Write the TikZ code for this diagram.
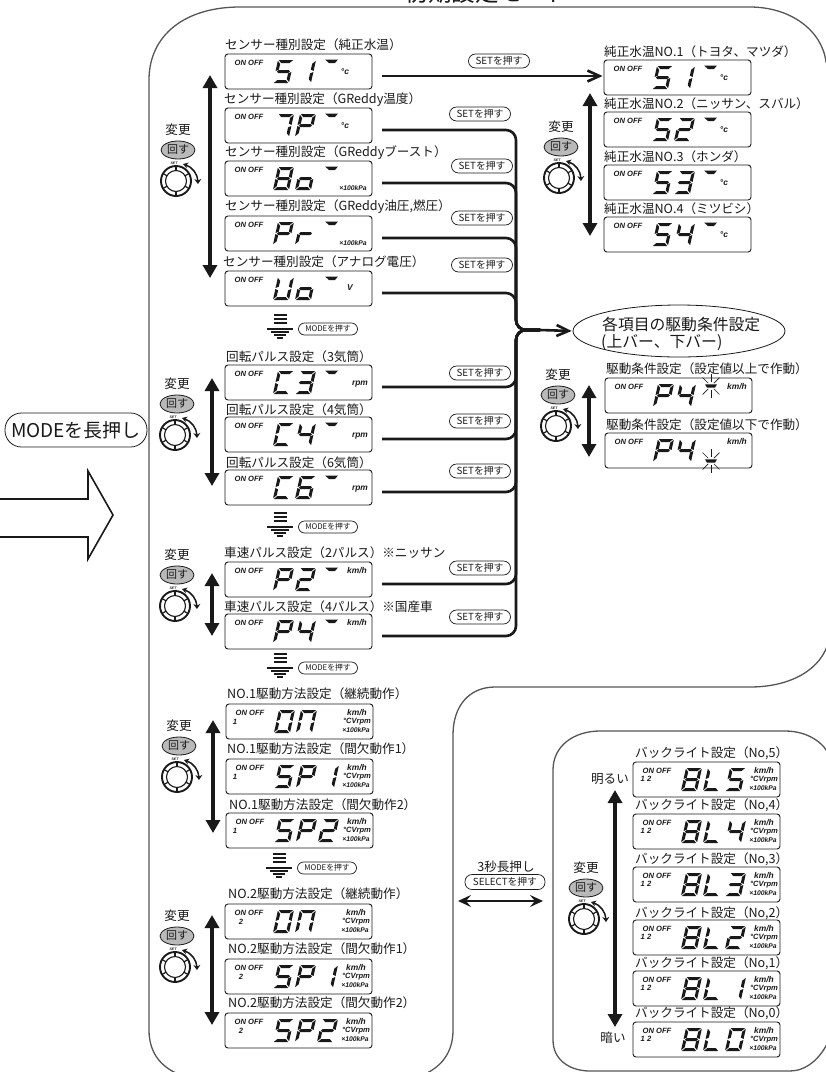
\documentclass[tikz,border=0pt]{standalone}
\usepackage{fontspec}
\setmainfont{Noto Sans CJK JP}
\newfontfamily\lcdfont{Liberation Sans}
\usepackage{tikz}
\usetikzlibrary{positioning,arrows.meta,shapes.geometric,calc}
\definecolor{inkblack}{RGB}{25,25,25}
\definecolor{framegray}{RGB}{85,85,85}
\definecolor{turngray}{RGB}{185,185,185}

\tikzset{
  lcdbox/.style={draw=inkblack,line width=0.9pt,rounded corners=3pt,minimum width=147pt,minimum height=35pt,inner sep=0pt},
  lcdlabel/.style={anchor=west,inner sep=0pt,text=inkblack,font=\fontsize{12.6}{13}\selectfont},
  lcdtext/.style={inner sep=0pt,text=inkblack,font=\lcdfont\bfseries\itshape\fontsize{7.6}{8}\selectfont},
  lcdunit/.style={inner sep=0pt,text=inkblack,font=\lcdfont\bfseries\itshape\fontsize{8.4}{9}\selectfont},
  lcdsmall/.style={inner sep=0pt,text=inkblack,font=\lcdfont\bfseries\itshape\fontsize{6.8}{7}\selectfont},
  pressbox/.style={draw=inkblack,line width=0.7pt,rounded corners=7pt,minimum width=61pt,minimum height=14pt,inner sep=0pt,text=inkblack,font=\fontsize{9.8}{10}\selectfont},
  modebox/.style={draw=inkblack,line width=0.7pt,rounded corners=6pt,minimum width=59pt,minimum height=12pt,inner sep=0pt,text=inkblack,font=\fontsize{7.8}{8}\selectfont},
  wordtext/.style={inner sep=0pt,text=inkblack,font=\fontsize{12.6}{13}\selectfont},
  turnbox/.style={ellipse,draw=inkblack,line width=0.8pt,fill=turngray,minimum width=34pt,minimum height=18pt,inner sep=0pt,text=inkblack,font=\fontsize{11}{12}\selectfont},
  updown/.style={line width=3.4pt,inkblack,{Triangle[length=13pt,width=14pt]}-{Triangle[length=13pt,width=14pt]}},
  busline/.style={line width=2.6pt,inkblack,rounded corners=10pt},
  flowline/.style={line width=2.6pt,inkblack,-{Straight Barb[length=12pt,width=11pt]},shorten >=1pt},
  panel/.style={framegray,line width=1.3pt},
}

% ── LCD segments, 16 wide and 23 high ──
\newcommand{\lcdsega}{\fill (0.8,0) -- (15.2,0) -- (12.2,3) -- (3.8,3) -- cycle;}
\newcommand{\lcdsegd}{\fill (0.8,23) -- (15.2,23) -- (12.2,20) -- (3.8,20) -- cycle;}
\newcommand{\lcdsegg}{\fill (1.5,11.5) -- (3,10) -- (13,10) -- (14.5,11.5) -- (13,13) -- (3,13) -- cycle;}
\newcommand{\lcdsegf}{\fill (0,0.8) -- (3,3.8) -- (3,9.6) -- (0,11) -- cycle;}
\newcommand{\lcdsegb}{\fill (16,0.8) -- (13,3.8) -- (13,9.6) -- (16,11) -- cycle;}
\newcommand{\lcdsege}{\fill (0,12) -- (3,13.4) -- (3,19.2) -- (0,22.2) -- cycle;}
\newcommand{\lcdsegc}{\fill (16,12) -- (13,13.4) -- (13,19.2) -- (16,22.2) -- cycle;}

\newcommand{\defglyph}[2]{\expandafter\def\csname glyph#1\endcsname{#2}}
\defglyph{5}{a,f,g,c,d}
\defglyph{S}{a,f,g,c,d}
\defglyph{1}{b,c}
\defglyph{7}{a,b,c}
\defglyph{P}{a,b,f,g,e}
\defglyph{8}{a,b,c,d,e,f,g}
\defglyph{o}{g,c,d,e}
\defglyph{r}{g,e}
\defglyph{U}{f,e,d,c,b}
\defglyph{C}{a,f,e,d}
\defglyph{3}{a,b,g,c,d}
\defglyph{4}{f,g,b,c}
\defglyph{6}{a,f,g,e,d,c}
\defglyph{2}{a,b,g,e,d}
\defglyph{0}{a,b,c,d,e,f}
\defglyph{N}{a,b,c,e,f}
\defglyph{L}{f,e,d}

\newcommand{\lcdglyph}[2]{%
  \begin{scope}[shift={(#2+5,6)},xslant=0.22,inkblack]
    \expandafter\let\expandafter\seglist\csname glyph#1\endcsname
    \foreach \seg in \seglist {\csname lcdseg\seg\endcsname}
  \end{scope}}

% ── Units ──
\newcommand{\unitc}[1]{\node[lcdunit] (#1-unit) at (120,18) {°c};}
\newcommand{\unitkm}[1]{\node[lcdunit] (#1-unit) at (132,9) {km/h};}
\newcommand{\unitrpm}[1]{\node[lcdunit] (#1-unit) at (135,19) {rpm};}
\newcommand{\unitkpa}[1]{\node[lcdsmall] (#1-unit) at (128,27) {×100kPa};}
\newcommand{\unitv}[1]{\node[lcdunit] (#1-unit) at (125,17) {V};}
\newcommand{\unitall}[1]{%
  \node[lcdunit] (#1-unit) at (131,9) {km/h};
  \node[lcdtext] (#1-cv) at (131,18) {°CVrpm};
  \node[lcdsmall] (#1-pa) at (130,26) {×100kPa};}

\newcommand{\lcdbar}{\fill[inkblack] (100,5.5) -- (113,5.5) -- (110,9) -- (104,9) -- cycle;}
\newcommand{\blinkbar}[2]{%
  \fill[inkblack] (#1-6,#2-1.7) -- (#1+6,#2-1.7) -- (#1+4,#2+1.7) -- (#1-4,#2+1.7) -- cycle;
  \foreach \ang in {45,90,135,225,270,315}
    \draw[inkblack,line width=0.7pt] (#1,#2) ++(\ang:4) -- ++(\ang:8);}

% name, left, top, glyphs, unit, extras
\newcommand{\lcd}[6]{%
  \node[lcdbox] (#1) at (#2+73.5,#3+17.5) {};
  \begin{scope}[shift={(#2,#3)}]
    \node[lcdtext] (#1-on) at (24,9) {ON OFF};
    \foreach \g [count=\i] in {#4} {
      \pgfmathsetmacro{\glyphx}{48+22*(\i-1)}
      \lcdglyph{\g}{\glyphx}
    }
    \csname unit#5\endcsname{#1}
    #6
  \end{scope}
  \coordinate (#1-out) at (#2+157,#3+22);}

% name, centre of the grey button
\newcommand{\knobgroup}[3]{%
  \node[wordtext] (#1-word) at (#2,#3-20) {変更};
  \node[turnbox] (#1-turn) at (#2,#3) {回す};
  \coordinate (#1-knob) at (#2-2,#3+31);
  \draw[inkblack,line width=1.9pt] (#1-knob) circle (15pt);
  \draw[inkblack,line width=1.1pt] (#1-knob) circle (10.5pt);
  \foreach \ang in {90,30,-30,-90,-150,150}
    \draw[inkblack,line width=1.2pt] ($(#1-knob)+(\ang:10.5pt)$) -- ($(#1-knob)+(\ang:15pt)$);
  \node[inner sep=0pt,inkblack,font=\lcdfont\bfseries\itshape\fontsize{3.5}{4}\selectfont] (#1-set) at ($(#1-knob)+(-2,-18)$) {SET};
  \draw[inkblack,line width=1.5pt,{Stealth[length=5pt,width=6pt]}-{Stealth[length=5pt,width=7pt]}] ($(#1-knob)+(7,-17)$) to[bend left=35] ($(#1-knob)+(22,3)$);}

% name, x, top, bottom
\newcommand{\updownlink}[4]{%
  \coordinate (#1-up) at (#2,#3);
  \coordinate (#1-down) at (#2,#4);
  \draw[updown] (#1-up) -- (#1-down);}

% name, x, top
\newcommand{\modestep}[3]{%
  \foreach \dy/\hw in {0/6.5,4/6.5,8/6.5,14/13,17/9,20/6,23/3}
    \draw[inkblack,line width=1.5pt] (#2-\hw,#3+\dy) -- (#2+\hw,#3+\dy);
  \node[modebox] (#1) at (#2+48,#3+14) {MODEを押す};}

\begin{document}
\begin{tikzpicture}[x=1pt,y=-1pt]
  \useasboundingbox (0,0) rectangle (826,1072);

  % ── Frames ──
  \draw[panel] (178,1074) .. controls (160,1066) and (149,1052) .. (149,1030) -- (149,80)
    .. controls (149,35) and (185,7) .. (240,7) -- (750,7)
    .. controls (790,7) and (822,30) .. (826,62) -- (829,62) -- (829,640)
    .. controls (822,670) and (790,687) .. (750,687) -- (495,687)
    .. controls (470,687) and (453,705) .. (453,735) -- (453,1030)
    .. controls (453,1052) and (442,1066) .. (425,1074);
  \draw[panel] (553,770) .. controls (553,745) and (575,731) .. (600,731) -- (785,731)
    .. controls (810,731) and (825,745) .. (829,755) -- (829,1040)
    .. controls (820,1060) and (805,1071) .. (790,1071) -- (590,1071)
    .. controls (570,1071) and (553,1060) .. (553,1040) -- cycle;
  \node[inner sep=0pt,text=inkblack,font=\fontsize{23.5}{24}\selectfont] (title) at (487,-7) {初期設定モード};

  % ── Entry ──
  \node[draw=inkblack,line width=0.8pt,rounded corners=16.5pt,minimum width=142pt,minimum height=34pt,inner sep=0pt,text=inkblack,font=\fontsize{19}{20}\selectfont] (entry) at (76,430) {MODEを長押し};
  \draw[inkblack,line width=1.6pt] (-2,499) -- (88,499) -- (88,471) -- (113,515) -- (88,559) -- (88,537) -- (-2,537);

  % ── Sensor type ──
  \node[lcdlabel] (lab-s1) at (225,45) {センサー種別設定（純正水温）};
  \lcd{s1}{225}{54}{5,1}{c}{\lcdbar}
  \node[lcdlabel] (lab-s2) at (224,100) {センサー種別設定（GReddy温度）};
  \lcd{s2}{225}{108}{7,P}{c}{\lcdbar}
  \node[lcdlabel] (lab-s3) at (225,153) {センサー種別設定（GReddyブースト）};
  \lcd{s3}{225}{161}{8,o}{kpa}{\lcdbar}
  \node[lcdlabel] (lab-s4) at (225,207) {センサー種別設定（GReddy油圧,燃圧）};
  \lcd{s4}{225}{216}{P,r}{kpa}{\lcdbar}
  \node[lcdlabel] (lab-s5) at (223,262) {センサー種別設定（アナログ電圧）};
  \lcd{s5}{225}{271}{U,o}{v}{\lcdbar}
  \knobgroup{ks}{178}{150}
  \updownlink{ks}{210}{75}{278}
  \modestep{mode-s}{280}{315}

  % ── Engine pulse ──
  \node[lcdlabel] (lab-c3) at (226,357) {回転パルス設定（3気筒）};
  \lcd{c3}{225}{365}{C,3}{rpm}{\lcdbar}
  \node[lcdlabel] (lab-c4) at (226,410) {回転パルス設定（4気筒）};
  \lcd{c4}{225}{417}{C,4}{rpm}{\lcdbar}
  \node[lcdlabel] (lab-c6) at (226,463) {回転パルス設定（6気筒）};
  \lcd{c6}{225}{470}{C,6}{rpm}{\lcdbar}
  \knobgroup{kc}{177}{404}
  \updownlink{kc}{212}{378}{486}
  \modestep{mode-c}{280}{513}

  % ── Speed pulse ──
  \node[lcdlabel] (lab-p2) at (224,553) {車速パルス設定（2パルス）※ニッサン};
  \lcd{p2}{225}{562}{P,2}{km}{\lcdbar}
  \node[lcdlabel] (lab-p4) at (224,607) {車速パルス設定（4パルス）※国産車};
  \lcd{p4}{225}{614}{P,4}{km}{\lcdbar}
  \knobgroup{kp}{177}{575}
  \updownlink{kp}{212}{573}{636}
  \modestep{mode-p}{280}{654}

  % ── Drive NO.1 ──
  \node[lcdlabel] (lab-a1) at (227,694) {NO.1駆動方法設定（継続動作）};
  \lcd{a1}{226}{704}{0,N}{all}{\node[lcdtext] (a1-ch) at (9,18) {1};}
  \node[lcdlabel] (lab-a2) at (227,749) {NO.1駆動方法設定（間欠動作1）};
  \lcd{a2}{226}{759}{S,P,1}{all}{\node[lcdtext] (a2-ch) at (9,18) {1};}
  \node[lcdlabel] (lab-a3) at (229,805) {NO.1駆動方法設定（間欠動作2）};
  \lcd{a3}{226}{813}{S,P,2}{all}{\node[lcdtext] (a3-ch) at (9,18) {1};}
  \knobgroup{ka}{179}{746}
  \updownlink{ka}{213}{720}{833}
  \modestep{mode-a}{279}{854}

  % ── Drive NO.2 ──
  \node[lcdlabel] (lab-b1) at (228,894) {NO.2駆動方法設定（継続動作）};
  \lcd{b1}{225}{904}{0,N}{all}{\node[lcdtext] (b1-ch) at (16,18) {2};}
  \node[lcdlabel] (lab-b2) at (228,949) {NO.2駆動方法設定（間欠動作1）};
  \lcd{b2}{225}{959}{S,P,1}{all}{\node[lcdtext] (b2-ch) at (16,18) {2};}
  \node[lcdlabel] (lab-b3) at (228,1003) {NO.2駆動方法設定（間欠動作2）};
  \lcd{b3}{225}{1013}{S,P,2}{all}{\node[lcdtext] (b3-ch) at (16,18) {2};}
  \knobgroup{kb}{177}{936}
  \updownlink{kb}{212}{915}{1025}

  % ── Stock water temperature ──
  \node[lcdlabel] (lab-r1) at (604,52) {純正水温NO.1（トヨタ、マツダ）};
  \lcd{r1}{604}{60}{5,1}{c}{\lcdbar}
  \node[lcdlabel] (lab-r2) at (604,104) {純正水温NO.2（ニッサン、スバル）};
  \lcd{r2}{604}{112}{5,2}{c}{\lcdbar}
  \node[lcdlabel] (lab-r3) at (604,157) {純正水温NO.3（ホンダ）};
  \lcd{r3}{604}{165}{5,3}{c}{\lcdbar}
  \node[lcdlabel] (lab-r4) at (604,209) {純正水温NO.4（ミツビシ）};
  \lcd{r4}{604}{217}{5,4}{c}{\lcdbar}
  \knobgroup{kr}{561}{147}
  \updownlink{kr}{590}{93}{236}

  % ── Drive condition ──
  \node[ellipse,draw=inkblack,line width=0.8pt,minimum width=212pt,minimum height=52pt,inner sep=0pt] (cond) at (679,331) {};
  \node[anchor=west,inner sep=0pt,text=inkblack,font=\fontsize{15.8}{16}\selectfont] (cond-a) at (602,324) {各項目の駆動条件設定};
  \node[anchor=west,inner sep=0pt,text=inkblack,font=\fontsize{15.8}{16}\selectfont] (cond-b) at (601,343) {(上バー、下バー)};
  \node[lcdlabel] (lab-d1) at (606,369) {駆動条件設定（設定値以上で作動）};
  \lcd{d1}{605}{378}{P,4}{km}{\blinkbar{106}{8}}
  \node[lcdlabel] (lab-d2) at (606,425) {駆動条件設定（設定値以下で作動）};
  \lcd{d2}{605}{433}{P,4}{km}{\blinkbar{106}{28}}
  \knobgroup{kd}{558}{395}
  \updownlink{kd}{589}{385}{457}

  % ── Backlight ──
  \node[lcdlabel] (lab-l5) at (635,753) {バックライト設定（No,5）};
  \lcd{l5}{633}{762}{8,L,5}{all}{\node[lcdtext] (l5-ch) at (13,17) {1 2};}
  \node[lcdlabel] (lab-l4) at (635,805) {バックライト設定（No,4）};
  \lcd{l4}{633}{814}{8,L,4}{all}{\node[lcdtext] (l4-ch) at (13,17) {1 2};}
  \node[lcdlabel] (lab-l3) at (635,859) {バックライト設定（No,3）};
  \lcd{l3}{633}{867}{8,L,3}{all}{\node[lcdtext] (l3-ch) at (13,17) {1 2};}
  \node[lcdlabel] (lab-l2) at (635,913) {バックライト設定（No,2）};
  \lcd{l2}{633}{920}{8,L,2}{all}{\node[lcdtext] (l2-ch) at (13,17) {1 2};}
  \node[lcdlabel] (lab-l1) at (635,963) {バックライト設定（No,1）};
  \lcd{l1}{633}{971}{8,L,1}{all}{\node[lcdtext] (l1-ch) at (13,17) {1 2};}
  \node[lcdlabel] (lab-l0) at (635,1013) {バックライト設定（No,0）};
  \lcd{l0}{633}{1022}{8,L,0}{all}{\node[lcdtext] (l0-ch) at (13,17) {1 2};}
  \knobgroup{kl}{586}{888}
  \node[wordtext] (bright) at (610,779) {明るい};
  \node[wordtext] (dark) at (613,1038) {暗い};
  \updownlink{kl}{615}{790}{1027}

  % ── Select ──
  \node[wordtext] (select-word) at (506,867) {3秒長押し};
  \node[pressbox,minimum width=80pt,minimum height=15pt] (select) at (505,882) {SELECTを押す};
  \coordinate (select-l) at (458,901);
  \coordinate (select-r) at (543,901);
  \draw[inkblack,line width=2.6pt,{Stealth[length=13pt,width=12pt,inset=5pt]}-{Stealth[length=13pt,width=12pt,inset=5pt]}] (select-l) -- (select-r);

  % ── Connectors ──
  \node[pressbox] (set-s1) at (499,61) {SETを押す};
  \node[pressbox] (set-s2) at (480,114) {SETを押す};
  \node[pressbox] (set-s3) at (482,166) {SETを押す};
  \node[pressbox] (set-s4) at (482,218) {SETを押す};
  \node[pressbox] (set-s5) at (482,265) {SETを押す};
  \node[pressbox] (set-c3) at (480,373) {SETを押す};
  \node[pressbox] (set-c4) at (480,421) {SETを押す};
  \node[pressbox] (set-c6) at (480,471) {SETを押す};
  \node[pressbox] (set-p2) at (480,568) {SETを押す};
  \node[pressbox] (set-p4) at (480,617) {SETを押す};

  \draw[flowline] (s1-out) -- (s1-out -| r1.west);

  \coordinate (hub) at (516,330);
  \coordinate (hub-out) at (540,330);
  \foreach \n in {s2,s3,s4,s5,c3,c4,c6,p2,p4}
    \draw[busline] (\n-out) -| (hub) -- (hub-out);
  \draw[flowline] (hub-out) -- (cond.west);
\end{tikzpicture}
\end{document}
